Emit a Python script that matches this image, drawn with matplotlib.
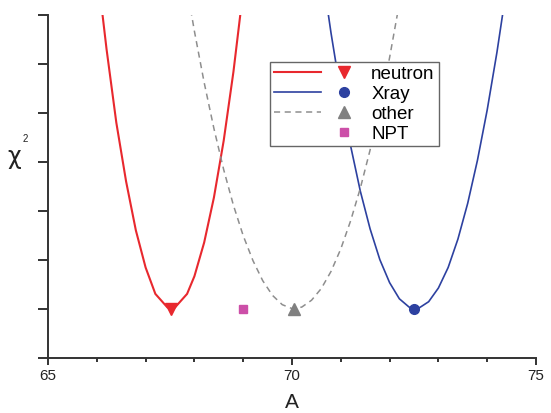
import matplotlib
matplotlib.use("Agg")
from matplotlib import pyplot as plt
from matplotlib.lines import Line2D
from matplotlib.legend_handler import HandlerTuple
from matplotlib.ticker import MultipleLocator

plt.rcParams["font.family"] = ["Liberation Sans", "DejaVu Sans"]

# chi^2 curves (y in tick units, bottom = 0)
neutron_x = [66.0, 66.2, 66.4, 66.6, 66.8, 67.0, 67.2, 67.45, 67.6, 67.85, 68.0, 68.2, 68.4, 68.6, 68.8, 69.0]
neutron_y = [8.0, 6.3, 4.8, 3.6, 2.6, 1.84, 1.3, 1.02, 1.02, 1.3, 1.66, 2.35, 3.27, 4.43, 5.84, 7.5]

xray_x = [70.6, 70.8, 71.0, 71.2, 71.4, 71.6, 71.8, 72.0, 72.2, 72.4, 72.5, 72.6, 72.8, 73.0, 73.2, 73.4, 73.6, 73.8, 74.0, 74.2, 74.4]
xray_y = [8.0, 6.63, 5.4, 4.33, 3.4, 2.63, 2.0, 1.53, 1.2, 1.03, 1.0, 1.01, 1.14, 1.42, 1.84, 2.42, 3.15, 4.03, 5.06, 6.24, 7.57]

other_x = [67.8, 68.0, 68.2, 68.4, 68.6, 68.8, 69.0, 69.2, 69.4, 69.6, 69.8, 70.0, 70.2, 70.4, 70.6, 70.8, 71.0, 71.2, 71.4, 71.6, 71.8, 72.0, 72.2]
other_y = [7.83, 6.67, 5.62, 4.68, 3.84, 3.11, 2.49, 1.98, 1.57, 1.27, 1.08, 1.0, 1.03, 1.17, 1.41, 1.76, 2.22, 2.79, 3.46, 4.24, 5.13, 6.13, 7.24]

# minima
neutron_min = (67.53, 1.0)
xray_min = (72.5, 1.0)
other_min = (70.05, 1.0)
npt_point = (69.0, 1.0)

red = "#e8282e"
blue = "#2d41a0"
gray = "#8e8e8e"
pink = "#cc4fa8"

fig = plt.figure(figsize=(5.51, 4.13), dpi=100)
ax = fig.add_axes([48 / 551, 1 - 357.5 / 413, 488 / 551, 342.5 / 413])

ax.plot(neutron_x, neutron_y, color=red, lw=1.5)
ax.plot(xray_x, xray_y, color=blue, lw=1.2)
ax.plot(other_x, other_y, color=gray, lw=1.1, ls=(0, (4, 3)))

ax.plot(*neutron_min, marker="v", ms=8, color=red, ls="none")
ax.plot(*xray_min, marker="o", ms=7, color=blue, ls="none")
ax.plot(*other_min, marker="^", ms=8, color="#808080", ls="none")
ax.plot(*npt_point, marker="s", ms=6, color=pink, ls="none")

ax.set_xlim(65, 75)
ax.set_ylim(0, 7)
ax.set_xticks([65, 70, 75])
ax.xaxis.set_minor_locator(MultipleLocator(1))
ax.yaxis.set_major_locator(MultipleLocator(1))
ax.set_yticklabels([])

for s in ["top", "right"]:
    ax.spines[s].set_visible(False)
for s in ["left", "bottom"]:
    ax.spines[s].set_color("#333333")
    ax.spines[s].set_linewidth(1.4)

ax.tick_params(axis="x", which="major", direction="out", length=5, width=1.4, color="#333333",
               labelsize=11, labelcolor="#222222", pad=3)
ax.tick_params(axis="x", which="minor", direction="out", length=3, width=1.4, color="#333333")
ax.tick_params(axis="y", which="major", direction="out", length=7, width=1.4, color="#333333")

fig.text(292 / 551, 1 - 403 / 413, "A", fontsize=15, ha="center", va="center", color="#222222")
fig.text(14 / 551, 1 - 157 / 413, "χ", fontsize=17, ha="center", va="center", color="#222222",
         family="DejaVu Sans")
fig.text(25 / 551, 1 - 139 / 413, "2", fontsize=7, ha="center", va="center", color="#222222")

handles = [
    (Line2D([], [], color=red, lw=1.5), Line2D([], [], color=red, marker="v", ms=8, ls="none")),
    (Line2D([], [], color=blue, lw=1.2), Line2D([], [], color=blue, marker="o", ms=7, ls="none")),
    (Line2D([], [], color=gray, lw=1.1, ls=(0, (4, 3))), Line2D([], [], color="#808080", marker="^", ms=8, ls="none")),
    (Line2D([], [], ls="none"), Line2D([], [], color=pink, marker="s", ms=6, ls="none")),
]
labels = ["neutron", "Xray", "other", "NPT"]
leg = fig.legend(handles, labels, handler_map={tuple: HandlerTuple(ndivide=None, pad=0)},
                 loc="upper left", bbox_to_anchor=(270 / 551, 1 - 62 / 413), borderaxespad=0,
                 fontsize=13.5, handlelength=5, handletextpad=0.2, labelspacing=0.15,
                 borderpad=0.2, fancybox=False, framealpha=1)
leg.get_frame().set_edgecolor("#666666")
leg.get_frame().set_linewidth(1.0)

fig.savefig("out.png", dpi=100)
